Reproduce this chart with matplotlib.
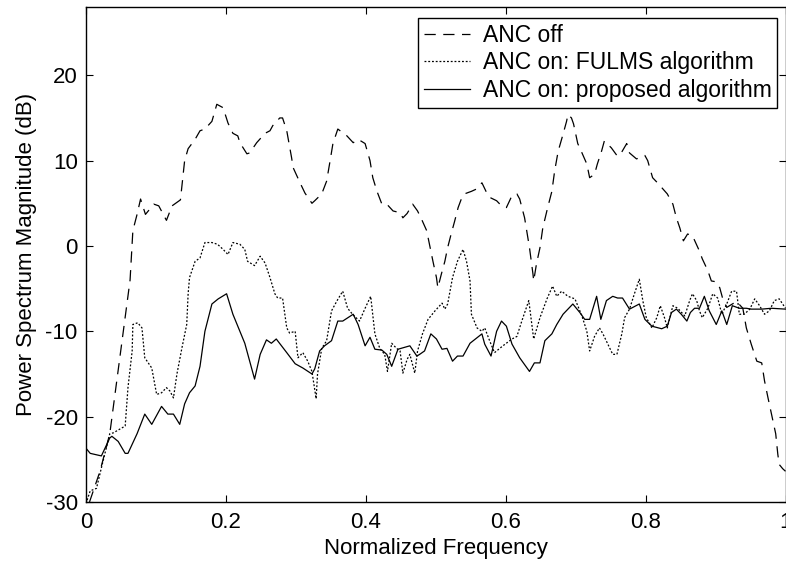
import matplotlib
matplotlib.use("Agg")
import matplotlib.pyplot as plt

plt.rcParams['font.family'] = ['Liberation Sans', 'DejaVu Sans']
plt.rcParams['axes.unicode_minus'] = False

# ANC off (dashed)
off_f = [0.005, 0.02, 0.034, 0.063, 0.067, 0.073, 0.078, 0.085, 0.097, 0.104, 0.115, 0.123,
         0.135, 0.141, 0.146, 0.156, 0.163, 0.17, 0.18, 0.187, 0.196, 0.203, 0.21, 0.217,
         0.22, 0.23, 0.234, 0.244, 0.256, 0.263, 0.267, 0.277, 0.281, 0.287, 0.294, 0.296,
         0.306, 0.313, 0.323, 0.327, 0.337, 0.344, 0.349, 0.353, 0.36, 0.373, 0.382, 0.389,
         0.399, 0.406, 0.41, 0.416, 0.423, 0.43, 0.439, 0.449, 0.453, 0.459, 0.467, 0.474,
         0.481, 0.487, 0.491, 0.496, 0.501, 0.503, 0.508, 0.513, 0.517, 0.522, 0.527, 0.532,
         0.537, 0.541, 0.551, 0.559, 0.566, 0.573, 0.577, 0.587, 0.594, 0.601, 0.609, 0.616,
         0.62, 0.627, 0.634, 0.639, 0.64, 0.644, 0.649, 0.653, 0.66, 0.666, 0.67, 0.675,
         0.682, 0.687, 0.689, 0.694, 0.697, 0.703, 0.708, 0.716, 0.72, 0.727, 0.731, 0.737,
         0.741, 0.751, 0.759, 0.763, 0.773, 0.777, 0.787, 0.799, 0.803, 0.81, 0.817, 0.831,
         0.839, 0.844, 0.849, 0.854, 0.86, 0.867, 0.877, 0.881, 0.889, 0.894, 0.901, 0.906,
         0.91, 0.916, 0.93, 0.939, 0.944, 0.951, 0.959, 0.966, 0.97, 0.975, 0.98, 0.986,
         0.989, 0.991, 0.996, 1.0]
off_db = [-30.0, -26.4, -22.0, -4.0, 1.8, 3.7, 5.5, 3.7, 4.9, 4.7, 3.0, 4.7,
          5.4, 10.0, 11.4, 12.5, 13.5, 13.7, 14.6, 16.6, 16.2, 14.4, 13.2, 12.9,
          12.1, 10.8, 10.9, 12.1, 13.2, 13.5, 14.1, 15.0, 15.0, 13.5, 10.3, 9.2,
          7.4, 6.2, 5.0, 5.3, 6.1, 7.6, 10.0, 12.0, 13.7, 12.9, 12.1, 12.5,
          12.0, 10.0, 8.0, 6.4, 4.9, 4.9, 4.1, 3.9, 3.3, 3.8, 4.9, 4.1,
          2.9, 1.8, 0.2, -1.8, -3.7, -4.9, -3.3, -1.8, -0.2, 1.4, 2.9, 4.5,
          5.6, 6.1, 6.4, 6.7, 7.4, 6.2, 5.7, 5.3, 4.7, 4.5, 5.9, 6.1,
          5.5, 3.3, -0.2, -3.3, -4.1, -2.1, -0.2, 2.1, 4.5, 6.4, 8.8, 11.1,
          13.1, 14.6, 15.4, 15.0, 14.3, 12.0, 11.1, 9.6, 8.0, 8.4, 9.6, 11.1,
          12.3, 11.5, 10.6, 10.6, 12.0, 10.9, 10.2, 10.6, 10.0, 8.0, 7.4, 6.1,
          4.9, 3.3, 2.1, 0.6, 1.4, 1.2, -0.6, -1.5, -2.9, -4.1, -4.2, -4.9,
          -6.1, -7.2, -6.5, -7.3, -9.6, -11.5, -13.5, -13.7, -15.8, -17.8, -19.7, -22.0,
          -24.4, -25.6, -26.1, -26.4]

# ANC on: FULMS (dotted)
fulms_f = [0.0, 0.006, 0.015, 0.022, 0.034, 0.039, 0.056, 0.06, 0.066, 0.067, 0.074, 0.08,
           0.084, 0.094, 0.101, 0.108, 0.115, 0.12, 0.125, 0.13, 0.137, 0.144, 0.146, 0.148,
           0.156, 0.163, 0.17, 0.18, 0.188, 0.196, 0.203, 0.21, 0.22, 0.227, 0.231, 0.241,
           0.249, 0.256, 0.263, 0.27, 0.274, 0.281, 0.287, 0.291, 0.299, 0.303, 0.31, 0.317,
           0.323, 0.329, 0.331, 0.337, 0.344, 0.351, 0.359, 0.367, 0.374, 0.381, 0.391, 0.399,
           0.407, 0.413, 0.42, 0.427, 0.431, 0.437, 0.444, 0.449, 0.453, 0.459, 0.463, 0.47,
           0.474, 0.481, 0.489, 0.499, 0.509, 0.513, 0.517, 0.524, 0.531, 0.539, 0.544, 0.549,
           0.551, 0.559, 0.566, 0.57, 0.577, 0.584, 0.596, 0.609, 0.616, 0.623, 0.633, 0.64,
           0.649, 0.659, 0.667, 0.673, 0.68, 0.689, 0.699, 0.709, 0.716, 0.72, 0.727, 0.734,
           0.739, 0.746, 0.753, 0.759, 0.766, 0.77, 0.777, 0.784, 0.791, 0.796, 0.801, 0.809,
           0.816, 0.821, 0.827, 0.831, 0.839, 0.846, 0.856, 0.863, 0.867, 0.873, 0.877, 0.881,
           0.889, 0.896, 0.903, 0.909, 0.916, 0.923, 0.93, 0.934, 0.941, 0.949, 0.956, 0.963,
           0.97, 0.977, 0.984, 0.991, 1.0]
fulms_db = [-30.2, -28.7, -28.4, -26.0, -22.0, -21.9, -21.1, -16.6, -12.3, -9.2, -9.0, -9.6,
            -13.1, -14.3, -17.4, -17.2, -16.6, -17.0, -17.8, -15.0, -12.0, -9.2, -5.6, -3.7,
            -1.8, -1.4, 0.4, 0.4, 0.2, -0.4, -1.0, 0.4, 0.2, -0.4, -1.8, -2.3,
            -1.2, -2.0, -3.7, -5.6, -6.1, -6.1, -9.6, -10.2, -10.0, -13.1, -12.5, -13.5,
            -14.7, -17.9, -15.0, -12.0, -11.1, -7.6, -6.4, -5.3, -7.3, -8.0, -8.8, -7.3,
            -5.9, -10.3, -12.0, -12.7, -14.7, -11.4, -12.0, -12.3, -14.9, -13.3, -12.7, -14.9,
            -12.3, -10.3, -8.6, -7.6, -6.7, -7.4, -6.8, -3.7, -1.8, -0.4, -1.8, -4.1,
            -8.0, -9.6, -10.0, -9.6, -11.1, -12.5, -11.7, -10.9, -10.6, -8.8, -6.4, -10.9,
            -8.4, -6.2, -4.7, -5.9, -5.3, -5.9, -6.2, -8.2, -10.0, -12.3, -10.6, -9.6,
            -10.3, -11.5, -12.7, -12.7, -10.3, -8.4, -7.4, -5.6, -3.9, -6.4, -8.4, -9.6,
            -8.4, -7.0, -8.4, -9.6, -7.0, -7.3, -8.2, -6.4, -5.6, -6.4, -7.6, -8.4,
            -7.3, -5.6, -6.1, -8.0, -6.8, -5.3, -5.3, -8.0, -8.0, -7.4, -6.2, -7.0,
            -8.0, -7.6, -6.4, -6.2, -7.3]

# ANC on: proposed (solid)
prop_f = [0.0, 0.006, 0.022, 0.034, 0.037, 0.046, 0.056, 0.06, 0.073, 0.084, 0.094, 0.108,
          0.117, 0.125, 0.134, 0.141, 0.148, 0.156, 0.163, 0.17, 0.18, 0.189, 0.201, 0.21,
          0.227, 0.241, 0.249, 0.258, 0.265, 0.272, 0.287, 0.299, 0.31, 0.323, 0.327, 0.334,
          0.341, 0.351, 0.36, 0.367, 0.382, 0.389, 0.399, 0.406, 0.413, 0.423, 0.43, 0.437,
          0.446, 0.463, 0.473, 0.477, 0.484, 0.493, 0.501, 0.509, 0.516, 0.524, 0.531, 0.539,
          0.549, 0.566, 0.57, 0.579, 0.587, 0.594, 0.601, 0.609, 0.62, 0.634, 0.641, 0.649,
          0.656, 0.666, 0.673, 0.682, 0.696, 0.706, 0.713, 0.72, 0.73, 0.736, 0.744, 0.753,
          0.76, 0.767, 0.777, 0.791, 0.799, 0.809, 0.823, 0.831, 0.837, 0.844, 0.851, 0.859,
          0.864, 0.87, 0.877, 0.884, 0.891, 0.901, 0.909, 0.916, 0.924, 0.934, 0.944, 0.951,
          0.966, 0.98, 1.0]
prop_db = [-23.7, -24.3, -24.6, -22.5, -22.3, -22.9, -24.3, -24.3, -22.0, -19.7, -20.9, -18.8,
           -19.7, -19.7, -20.9, -18.5, -17.2, -16.4, -14.1, -10.0, -6.8, -6.2, -5.6, -8.0,
           -11.4, -15.6, -12.7, -11.0, -11.4, -10.9, -12.5, -13.8, -14.3, -15.0, -14.4, -12.3,
           -11.7, -11.1, -8.8, -8.8, -8.0, -9.2, -11.7, -10.7, -12.1, -12.2, -12.7, -14.1,
           -12.1, -11.7, -12.9, -12.7, -12.3, -10.3, -10.9, -12.1, -12.0, -13.5, -12.9, -12.9,
           -11.4, -10.3, -11.5, -12.9, -10.0, -8.8, -9.4, -11.5, -13.1, -14.7, -13.7, -13.7,
           -11.1, -10.3, -9.2, -8.0, -6.8, -7.8, -8.6, -8.6, -5.9, -8.6, -6.4, -5.9,
           -6.1, -6.1, -7.4, -6.8, -8.6, -9.4, -9.7, -9.4, -7.8, -7.4, -8.0, -8.8,
           -7.8, -7.3, -7.3, -5.9, -7.6, -9.2, -7.6, -9.2, -7.0, -7.3, -7.3, -7.4,
           -7.4, -7.3, -7.4]

fig = plt.figure(figsize=(7.86, 5.65), dpi=100)
ax = fig.add_axes([86 / 786, 1 - 502 / 565, 699.5 / 786, 495 / 565])

ax.plot(off_f, off_db, color='black', lw=0.9, linestyle=(0, (9, 6)), label='ANC off')
ax.plot(fulms_f, fulms_db, color='black', lw=0.9, linestyle=(0, (1.5, 1.5)),
        label='ANC on: FULMS algorithm')
ax.plot(prop_f, prop_db, color='black', lw=0.9, label='ANC on: proposed algorithm')

ax.set_xlim(0, 1)
ax.set_ylim(-30, 28)
ax.set_xticks([0, 0.2, 0.4, 0.6, 0.8, 1])
ax.set_xticklabels(['0', '0.2', '0.4', '0.6', '0.8', '1'])
ax.set_yticks([-30, -20, -10, 0, 10, 20])
ax.tick_params(direction='in', top=True, right=True, length=5, width=0.8,
               labelsize=16)
ax.tick_params(axis='x', pad=7)
ax.tick_params(axis='y', pad=6)
for s in ax.spines.values():
    s.set_linewidth(1.0)

ax.set_xlabel('Normalized Frequency', fontsize=16, labelpad=4)
ax.set_ylabel('Power Spectrum Magnitude (dB)', fontsize=16, labelpad=6)

leg = ax.legend(loc='upper right', bbox_to_anchor=(0.988, 0.978), fontsize=16.5,
                frameon=True, fancybox=False, edgecolor='black', framealpha=1,
                handlelength=2.0, handletextpad=0.55, borderpad=0.25, labelspacing=0.2,
                borderaxespad=0)
leg.get_frame().set_linewidth(1.0)

fig.savefig('out.png', dpi=100)
